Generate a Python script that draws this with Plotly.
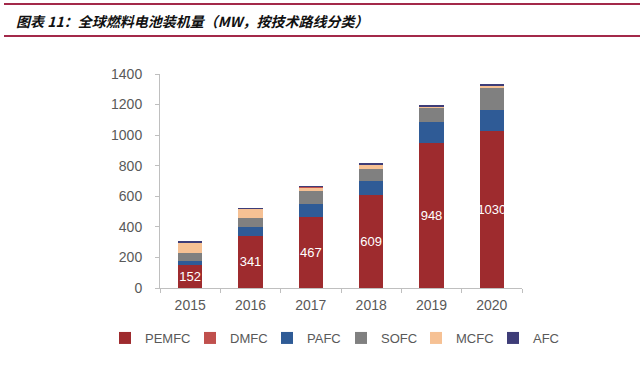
import plotly.graph_objects as go

years = ["2015", "2016", "2017", "2018", "2019", "2020"]
pemfc = [152, 341, 467, 609, 948, 1030]
dmfc = [3, 4, 3, 4, 2, 5]
pafc = [26, 58, 83, 93, 138, 132]
sofc = [48, 61, 82, 76, 98, 151]
mcfc = [70, 57, 26, 29, 4, 10]
afc = [2, 1, 1, 1, 1, 1]

title_text = "图表 11：全球燃料电池装机量（MW，按技术路线分类）"

fig = go.Figure()

# (name, values, colour, legend rank, legend entry width in px)
series = [
    ("PEMFC", pemfc, "#9E2B2E", 1, 40),
    ("PAFC", pafc, "#2F5B96", 3, 29),
    ("SOFC", sofc, "#808080", 4, 30),
    ("MCFC", mcfc, "#F6C194", 5, 32),
    ("DMFC", dmfc, "#C0504D", 2, 32),
    ("AFC", afc, "#3E3D78", 6, 26),
]

for name, vals, color, rank, lw in series:
    kw = {}
    if name == "PEMFC":
        kw = dict(text=[str(v) for v in vals], textposition="inside",
                  insidetextanchor="middle", textangle=0, constraintext="none",
                  textfont=dict(color="white", size=13, family="Liberation Sans, Arial"))
    fig.add_trace(go.Bar(x=years, y=vals, name=name, marker_color=color,
                         marker_line_width=0, legendrank=rank, legendwidth=lw,
                         cliponaxis=False, **kw))

fig.update_layout(
    barmode="stack",
    bargap=0.6,
    width=640, height=371,
    margin=dict(l=160, r=118, t=74, b=83, autoexpand=False),
    paper_bgcolor="white", plot_bgcolor="white",
    font=dict(family="Liberation Sans, Arial", color="#595959", size=14),
    showlegend=True,
    legend=dict(orientation="h", x=(105-160)/362, xanchor="left",
                y=(288-338)/214, yanchor="middle",
                traceorder="normal", font=dict(size=13, color="#595959"),
                itemwidth=30, tracegroupgap=0),
)

fig.update_yaxes(range=[0, 1400], dtick=200, showgrid=False, showline=True,
                 linecolor="#BFBFBF", linewidth=1, ticks="outside", ticklen=4,
                 tickcolor="#BFBFBF", tickfont=dict(size=14, color="#595959"),
                 ticklabelstandoff=10, zeroline=False)
fig.update_xaxes(showgrid=False, showline=True, linecolor="#BFBFBF", linewidth=1,
                 ticks="outside", ticklen=4, tickcolor="#BFBFBF", tickson="boundaries",
                 tickfont=dict(size=14, color="#595959"), ticklabelstandoff=4)

# header lines and title
for yy in [4, 36]:
    fig.add_shape(type="line", xref="paper", yref="paper",
                  x0=-156/362, x1=(640-160)/362, y0=(371-83-yy)/214, y1=(371-83-yy)/214,
                  line=dict(color="#A3294A", width=2))

fig.add_annotation(text="<b><i>" + title_text + "</i></b>", xref="paper", yref="paper",
                   x=-146/362, y=(371-83-21)/214, xanchor="left", yanchor="middle",
                   showarrow=False,
                   font=dict(family="Noto Sans CJK SC", size=14, color="#111111"))

fig.write_html("out.html", config={"displayModeBar": False},
               post_script="document.body.style.margin='0';document.body.style.overflow='hidden';")
